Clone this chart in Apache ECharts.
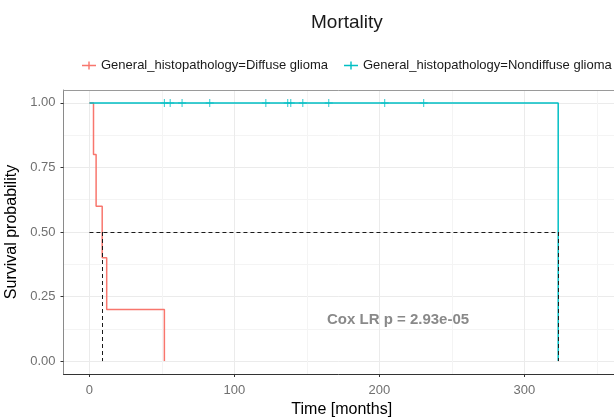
<!DOCTYPE html>
<html>
<head>
<meta charset="utf-8">
<script src="https://cdn.jsdelivr.net/npm/echarts@6/dist/echarts.min.js"></script>
<style>
html,body{margin:0;padding:0;background:#fff;}
#chart{width:614px;height:417px;}
</style>
</head>
<body>
<div id="chart"></div>
<script>
// ---- data ----
const groupNames = ['General_histopathology=Diffuse glioma', 'General_histopathology=Nondiffuse glioma'];
const diffuseTimes = [0, 2.8, 4.6, 8.8, 11.9, 51.7];
const diffuseSurv  = [1, 0.8, 0.6, 0.4, 0.2, 0];
const nondiffuseTimes = [0, 323.4];
const nondiffuseSurv  = [1, 0];
const nondiffuseCensorTimes = [51.7, 55.7, 63.9, 83.0, 121.7, 136.8, 138.9, 147.2, 165.1, 203.7, 230.6];
const nondiffuseCensorSurv  = [1, 1, 1, 1, 1, 1, 1, 1, 1, 1, 1];
const medianTimes = [8.8, 323.4];
const medianLevel = 0.5;
const xTickValues = [0, 100, 200, 300];
const yTickValues = [0, 0.25, 0.5, 0.75, 1];
const yTickLabels = ['0.00', '0.25', '0.50', '0.75', '1.00'];
const pValueText = 'Cox LR p = 2.93e-05';
const pValueAnchor = [212.9, 0.161];

// ---- build ----
function stepData(t, s) {
  const d = [];
  for (let i = 0; i < t.length; i++) {
    if (i > 0) d.push([t[i], s[i - 1]]);
    d.push([t[i], s[i]]);
  }
  return d;
}
const RED = '#F8766D', CYAN = '#00BFC4';
const FONT = '"Liberation Sans", Arial, sans-serif';
const crossPath = 'path://M0,4.35H10V5.65H0Z M4.35,0H5.65V10H4.35Z';
const legendIcon = 'path://M0,3.3H14V4.7H0Z M6.3,0H7.7V8H6.3Z';
const X_MIN = -17.9, X_MAX = 361.9;

const medianLines = [];
medianLines.push([{coord: [0, medianLevel]}, {coord: [Math.max.apply(null, medianTimes), medianLevel]}]);
medianTimes.forEach(t => medianLines.push([{coord: [t, medianLevel]}, {coord: [t, 0]}]));

const legendText = {fontFamily: FONT, fontSize: 13, color: '#1a1a1a'};

const chart = echarts.init(document.getElementById('chart'), null, {renderer: 'canvas'});
chart.setOption({
  animation: false,
  backgroundColor: '#fff',
  textStyle: {fontFamily: FONT},
  title: {
    text: 'Mortality', left: 306, top: 8,
    textStyle: {fontFamily: FONT, fontSize: 19, fontWeight: 'normal', color: '#1a1a1a'}
  },
  legend: [
    {left: 77, top: 54, itemWidth: 14, itemHeight: 8, data: [{name: groupNames[0], icon: legendIcon}], textStyle: legendText},
    {left: 339, top: 54, itemWidth: 14, itemHeight: 8, data: [{name: groupNames[1], icon: legendIcon}], textStyle: legendText}
  ],
  grid: {left: 63.5, top: 90, right: 0, bottom: 43, show: false, containLabel: false, outerBoundsMode: 'none'},
  xAxis: [{
    type: 'value', min: X_MIN, max: X_MAX, minInterval: 100, maxInterval: 100,
    name: 'Time [months]', nameLocation: 'middle', nameGap: 28,
    nameTextStyle: {fontFamily: FONT, fontSize: 16, color: '#000', padding: [0, 0, 0, 6]},
    axisLine: {show: true, onZero: false, lineStyle: {color: '#333', width: 1}},
    axisTick: {show: true, length: 3, customValues: xTickValues, lineStyle: {color: '#333'}},
    axisLabel: {customValues: xTickValues, margin: 10, fontSize: 13, color: '#707070', fontFamily: FONT},
    splitLine: {show: true, lineStyle: {color: '#ebebeb', width: 1}},
    minorTick: {show: false, splitNumber: 2},
    minorSplitLine: {show: true, lineStyle: {color: '#f4f4f4', width: 1}}
  }, {
    type: 'value', position: 'top', min: X_MIN, max: X_MAX,
    axisLine: {show: true, onZero: false, lineStyle: {color: '#9a9a9a', width: 1}},
    axisTick: {show: false}, axisLabel: {show: false}, splitLine: {show: false}
  }],
  yAxis: {
    type: 'value', min: -0.05, max: 1.05, minInterval: 0.25, maxInterval: 0.25,
    name: 'Survival probability', nameLocation: 'middle', nameGap: 32,
    nameTextStyle: {fontFamily: FONT, fontSize: 16, color: '#000'},
    axisLine: {show: true, onZero: false, lineStyle: {color: '#8a8a8a', width: 1}},
    axisTick: {show: true, length: 3, customValues: yTickValues, lineStyle: {color: '#333'}},
    axisLabel: {
      customValues: yTickValues, margin: 8, fontSize: 13, color: '#707070', fontFamily: FONT,
      formatter: v => { const i = yTickValues.indexOf(v); return i >= 0 ? yTickLabels[i] : ''; }
    },
    splitLine: {show: true, lineStyle: {color: '#ebebeb', width: 1}},
    minorTick: {show: false, splitNumber: 2},
    minorSplitLine: {show: true, lineStyle: {color: '#f4f4f4', width: 1}}
  },
  series: [
    {
      name: groupNames[0], type: 'line', showSymbol: false, symbol: 'none',
      data: stepData(diffuseTimes, diffuseSurv),
      lineStyle: {color: RED, width: 1.5}, itemStyle: {color: RED}, z: 3
    },
    {
      name: groupNames[1], type: 'line', showSymbol: false, symbol: 'none',
      data: stepData(nondiffuseTimes, nondiffuseSurv),
      lineStyle: {color: CYAN, width: 1.5}, itemStyle: {color: CYAN}, z: 3
    },
    {
      name: 'censor', type: 'scatter', symbol: crossPath, symbolSize: 8,
      data: nondiffuseCensorTimes.map((t, i) => [t, nondiffuseCensorSurv[i]]),
      itemStyle: {color: CYAN}, z: 4, silent: true
    },
    {
      name: 'median', type: 'line', data: [], z: 5,
      markLine: {
        silent: true, symbol: 'none', label: {show: false},
        lineStyle: {color: '#1a1a1a', type: [4, 3], width: 1},
        emphasis: {disabled: true},
        data: medianLines
      }
    },
    {
      name: 'pvalue', type: 'scatter', symbolSize: 0, silent: true, z: 6,
      data: [pValueAnchor],
      label: {
        show: true, position: 'inside', formatter: pValueText,
        fontFamily: FONT, fontSize: 15, fontWeight: 'bold', color: '#6b6b6b'
      }
    }
  ]
});
</script>
</body>
</html>
